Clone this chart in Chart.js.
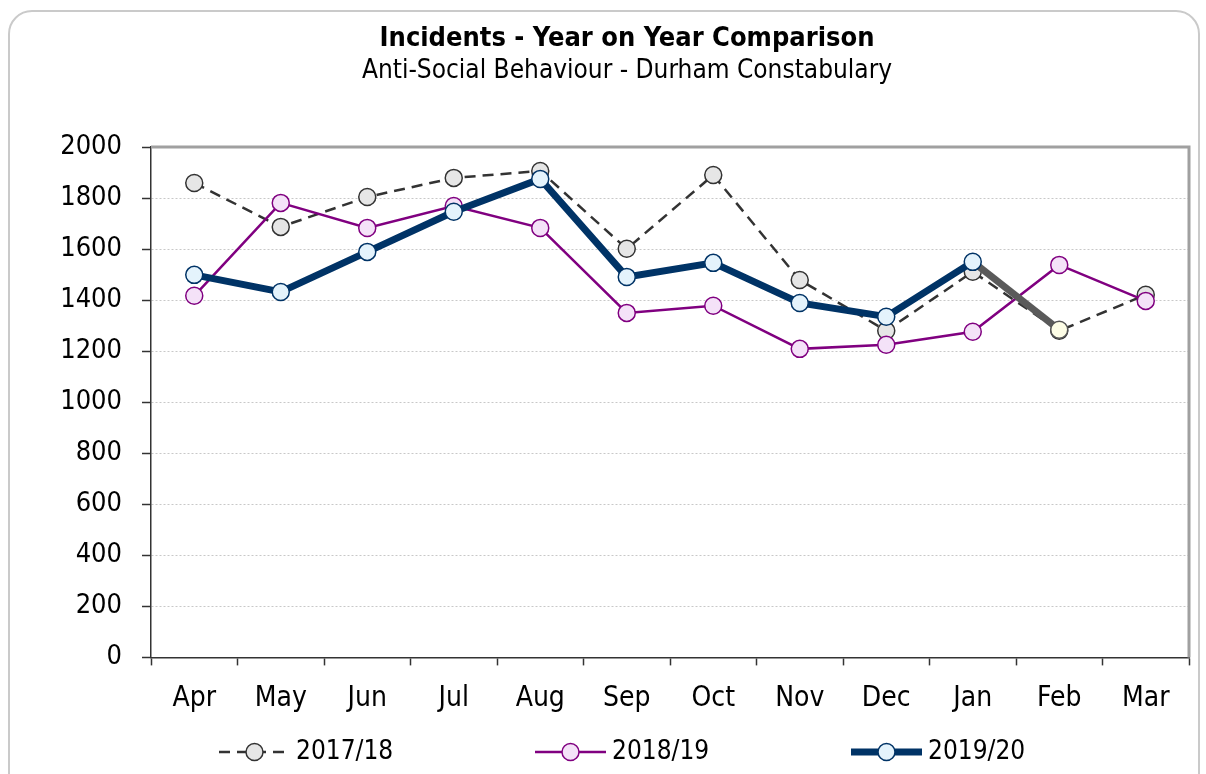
<!DOCTYPE html>
<html>
<head>
<meta charset="utf-8">
<title>Incidents - Year on Year Comparison</title>
<script src="https://cdn.jsdelivr.net/npm/chart.js@4.4.1/dist/chart.umd.min.js"></script>
<style>
    body { margin: 0; background: #fff; }
    #wrap { position: relative; width: 1206px; height: 774px; overflow: hidden; }
    #frame {
        position: absolute; left: 8px; top: 10px; width: 1188px; height: 820px;
        border: 2px solid #cacaca; border-radius: 24px; pointer-events: none;
    }
    canvas { position: absolute; left: 0; top: 0; }
</style>
</head>
<body>
<div id="wrap">
    <div id="frame"></div>
    <canvas id="chart" width="1206" height="774"></canvas>
</div>
<script>
// Data
const months = ['Apr', 'May', 'Jun', 'Jul', 'Aug', 'Sep', 'Oct', 'Nov', 'Dec', 'Jan', 'Feb', 'Mar'];
const fy1718 = [1859, 1687, 1804, 1879, 1906, 1601, 1890, 1479, 1280, 1511, 1280, 1421];
const fy1819 = [1417, 1781, 1683, 1769, 1683, 1350, 1378, 1209, 1225, 1276, 1538, 1397];
const fy1920 = [1499, 1432, 1589, 1746, 1875, 1491, 1546, 1389, 1335, 1550, 1284, null];
// Feb 2019/20 is shown as a provisional figure (grey segment, cream marker)
const provisional1920 = [false, false, false, false, false, false, false, false, false, false, true, false];
const yTicks = [0, 200, 400, 600, 800, 1000, 1200, 1400, 1600, 1800, 2000];

const chartTitle = 'Incidents - Year on Year Comparison';
const chartSubtitle = 'Anti-Social Behaviour - Durham Constabulary';

const FONT = '"DejaVu Sans Condensed", "DejaVu Sans", sans-serif';

// title block sits a little right of the canvas centre, as in the original
const headings = {
    id: 'headings',
    afterDraw(chart) {
        const ctx = chart.ctx;
        ctx.save();
        ctx.fillStyle = '#000';
        ctx.textAlign = 'center';
        ctx.textBaseline = 'middle';
        ctx.font = 'bold 27px ' + FONT;
        ctx.fillText(chartTitle, 627, 39);
        ctx.font = '26px ' + FONT;
        ctx.fillText(chartSubtitle, 627, 71);
        ctx.restore();
    }
};

// grey box round the plot area
const plotFrame = {
    id: 'plotFrame',
    beforeDatasetsDraw(chart) {
        const a = chart.chartArea, ctx = chart.ctx;
        ctx.save();
        ctx.strokeStyle = '#a0a0a0';
        ctx.lineWidth = 3;
        ctx.beginPath();
        ctx.moveTo(a.left, a.top);
        ctx.lineTo(a.right, a.top);
        ctx.lineTo(a.right, a.bottom);
        ctx.stroke();
        ctx.restore();
    }
};

// legend: line + marker + label, like the office chart
const lineLegend = {
    id: 'lineLegend',
    afterDraw(chart) {
        const ctx = chart.ctx;
        const y = 752, left = 219, step = 316, iconW = 71;
        chart.data.datasets.forEach((ds, i) => {
            const x = left + i * step;
            ctx.save();
            ctx.strokeStyle = ds.borderColor;
            ctx.lineWidth = ds.borderWidth;
            ctx.setLineDash(ds.borderDash || []);
            ctx.beginPath();
            ctx.moveTo(x, y);
            ctx.lineTo(x + iconW, y);
            ctx.stroke();
            ctx.setLineDash([]);
            ctx.beginPath();
            ctx.arc(x + iconW / 2, y, 8.5, 0, Math.PI * 2);
            ctx.fillStyle = ds.legendFill;
            ctx.fill();
            ctx.lineWidth = 1.5;
            ctx.strokeStyle = ds.legendEdge;
            ctx.stroke();
            ctx.fillStyle = '#000';
            ctx.font = '26px ' + FONT;
            ctx.textBaseline = 'middle';
            ctx.fillText(ds.label, x + iconW + 6, y);
            ctx.restore();
        });
    }
};

new Chart(document.getElementById('chart'), {
    type: 'line',
    data: {
        labels: months,
        datasets: [
            {
                label: '2017/18',
                data: fy1718,
                order: 3,
                borderColor: '#333333',
                borderWidth: 2.5,
                borderDash: [11, 7],
                pointRadius: 8.5,
                pointHoverRadius: 8.5,
                pointBorderWidth: 1.5,
                pointBackgroundColor: '#e6e6e6',
                pointBorderColor: '#333333',
                legendFill: '#e6e6e6',
                legendEdge: '#333333',
                tension: 0
            },
            {
                label: '2018/19',
                data: fy1819,
                order: 2,
                borderColor: '#800080',
                borderWidth: 2.5,
                pointRadius: 8.5,
                pointHoverRadius: 8.5,
                pointBorderWidth: 1.5,
                pointBackgroundColor: '#f4e2f8',
                pointBorderColor: '#800080',
                legendFill: '#f4e2f8',
                legendEdge: '#800080',
                tension: 0
            },
            {
                label: '2019/20',
                data: fy1920,
                order: 1,
                borderColor: '#003366',
                borderWidth: 7,
                pointRadius: 8.5,
                pointHoverRadius: 8.5,
                pointBorderWidth: 1.5,
                pointBackgroundColor: c => provisional1920[c.dataIndex] ? '#fdfde6' : '#e4f3fc',
                pointBorderColor: c => provisional1920[c.dataIndex] ? '#555555' : '#003366',
                segment: {
                    borderColor: c => provisional1920[c.p1DataIndex] ? '#5a5a5a' : undefined
                },
                legendFill: '#e4f3fc',
                legendEdge: '#003366',
                tension: 0
            }
        ]
    },
    options: {
        responsive: false,
        animation: false,
        layout: { padding: { top: 147, left: 30, right: 17, bottom: 41 } },
        plugins: {
            legend: { display: false },
            tooltip: { enabled: false }
        },
        scales: {
            x: {
                offset: true,
                grid: {
                    offset: true,
                    drawOnChartArea: false,
                    drawTicks: true,
                    tickLength: 8,
                    tickColor: '#333',
                    tickWidth: 1.5
                },
                border: { color: '#333', width: 1.5 },
                ticks: {
                    color: '#000',
                    padding: 17,
                    font: { family: FONT, size: 28 },
                    maxRotation: 0
                }
            },
            y: {
                min: 0,
                max: 2000,
                afterFit(scale) { scale.width = 121; },
                afterBuildTicks(scale) { scale.ticks = yTicks.map(v => ({ value: v })); },
                grid: {
                    color: '#c8c8c8',
                    lineWidth: 1,
                    tickLength: 9,
                    tickColor: '#333',
                    tickWidth: 1.5,
                    tickBorderDash: []
                },
                border: { color: '#333', width: 1.5, dash: [2, 2] },
                ticks: {
                    color: '#000',
                    padding: 20,
                    font: { family: FONT, size: 27 },
                    callback: v => String(v)
                }
            }
        }
    },
    plugins: [plotFrame, lineLegend, headings]
});
</script>
</body>
</html>
